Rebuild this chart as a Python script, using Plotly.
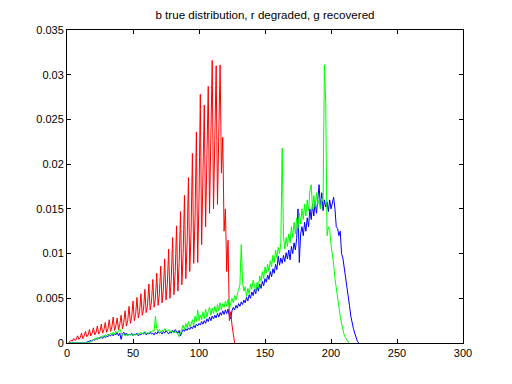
import plotly.graph_objects as go

# Degraded distribution (red), x = 1..127
red_vals = [
    0.0000, 0.0001, 0.0003, 0.0002, 0.0005, 0.0003, 0.0004, 0.0008, 0.0004, 0.0006,
    0.0011, 0.0005, 0.0008, 0.0013, 0.0007, 0.0009, 0.0015, 0.0008, 0.0011, 0.0017,
    0.0009, 0.0012, 0.0019, 0.0010, 0.0013, 0.0021, 0.0011, 0.0015, 0.0023, 0.0012,
    0.0016, 0.0026, 0.0013, 0.0018, 0.0029, 0.0014, 0.0019, 0.0028, 0.0015, 0.0021,
    0.0031, 0.0016, 0.0023, 0.0036, 0.0019, 0.0025, 0.0041, 0.0022, 0.0029, 0.0047,
    0.0025, 0.0032, 0.0051, 0.0028, 0.0035, 0.0055, 0.0031, 0.0038, 0.0060, 0.0034,
    0.0042, 0.0066, 0.0037, 0.0046, 0.0071, 0.0040, 0.0050, 0.0078, 0.0042, 0.0055,
    0.0086, 0.0045, 0.0060, 0.0094, 0.0048, 0.0066, 0.0105, 0.0050, 0.0072, 0.0118,
    0.0054, 0.0080, 0.0131, 0.0058, 0.0090, 0.0147, 0.0065, 0.0100, 0.0165, 0.0072,
    0.0112, 0.0185, 0.0080, 0.0125, 0.0212, 0.0089, 0.0140, 0.0236, 0.0090, 0.0160,
    0.0278, 0.0110, 0.0180, 0.0266, 0.0130, 0.0200, 0.0287, 0.0145, 0.0220, 0.0316,
    0.0150, 0.0230, 0.0310, 0.0155, 0.0240, 0.0311, 0.0190, 0.0230, 0.0125, 0.0150,
    0.0080, 0.0115, 0.0025, 0.0035, 0.0020, 0.0008, 0.0000,
]

# True distribution (blue), x = 1..221
blue_vals = [
    0.0000, 0.0000, 0.0000, 0.0000, 0.0000, 0.0000, 0.0000, 0.0000, 0.0000, 0.0000,
    0.0000, 0.0000, 0.0000, 0.0000, 0.0001, 0.0002, 0.0002, 0.0003, 0.0002, 0.0004,
    0.0003, 0.0005, 0.0004, 0.0006, 0.0005, 0.0007, 0.0005, 0.0008, 0.0006, 0.0008,
    0.0007, 0.0009, 0.0008, 0.0010, 0.0008, 0.0011, 0.0009, 0.0012, 0.0008, 0.0011,
    0.0004, 0.0010, 0.0012, 0.0009, 0.0011, 0.0008, 0.0010, 0.0009, 0.0011, 0.0008,
    0.0010, 0.0009, 0.0011, 0.0008, 0.0010, 0.0009, 0.0011, 0.0010, 0.0012, 0.0009,
    0.0011, 0.0010, 0.0012, 0.0010, 0.0011, 0.0009, 0.0012, 0.0010, 0.0013, 0.0011,
    0.0012, 0.0010, 0.0013, 0.0011, 0.0014, 0.0012, 0.0010, 0.0013, 0.0011, 0.0014,
    0.0012, 0.0015, 0.0013, 0.0011, 0.0014, 0.0008, 0.0012, 0.0015, 0.0013, 0.0016,
    0.0014, 0.0017, 0.0015, 0.0018, 0.0016, 0.0020, 0.0017, 0.0021, 0.0019, 0.0022,
    0.0020, 0.0024, 0.0021, 0.0025, 0.0022, 0.0027, 0.0024, 0.0029, 0.0025, 0.0030,
    0.0027, 0.0031, 0.0028, 0.0033, 0.0029, 0.0034, 0.0031, 0.0036, 0.0032, 0.0037,
    0.0033, 0.0038, 0.0030, 0.0027, 0.0036, 0.0040, 0.0037, 0.0042, 0.0039, 0.0044,
    0.0041, 0.0046, 0.0043, 0.0048, 0.0045, 0.0051, 0.0047, 0.0054, 0.0050, 0.0057,
    0.0053, 0.0060, 0.0055, 0.0063, 0.0058, 0.0066, 0.0061, 0.0069, 0.0064, 0.0072,
    0.0068, 0.0076, 0.0071, 0.0080, 0.0074, 0.0083, 0.0078, 0.0088, 0.0082, 0.0097,
    0.0087, 0.0095, 0.0089, 0.0098, 0.0091, 0.0101, 0.0094, 0.0104, 0.0093, 0.0108,
    0.0100, 0.0112, 0.0104, 0.0117, 0.0150, 0.0090, 0.0122, 0.0130, 0.0120, 0.0135,
    0.0125, 0.0140, 0.0130, 0.0150, 0.0138, 0.0155, 0.0142, 0.0158, 0.0145, 0.0165,
    0.0177, 0.0150, 0.0168, 0.0148, 0.0160, 0.0152, 0.0158, 0.0147, 0.0160, 0.0150,
    0.0156, 0.0163, 0.0150, 0.0130, 0.0128, 0.0120, 0.0125, 0.0100, 0.0095, 0.0085,
    0.0075, 0.0067, 0.0055, 0.0042, 0.0030, 0.0022, 0.0016, 0.0011, 0.0006, 0.0002,
    0.0000,
]

# Recovered distribution (green), x = 1..214
green_vals = [
    0.0000, 0.0000, 0.0000, 0.0000, 0.0000, 0.0000, 0.0000, 0.0000, 0.0000, 0.0000,
    0.0000, 0.0000, 0.0000, 0.0000, 0.0000, 0.0000, 0.0000, 0.0002, 0.0003, 0.0004,
    0.0005, 0.0004, 0.0006, 0.0005, 0.0007, 0.0006, 0.0008, 0.0007, 0.0009, 0.0008,
    0.0010, 0.0009, 0.0011, 0.0009, 0.0012, 0.0010, 0.0013, 0.0011, 0.0014, 0.0016,
    0.0012, 0.0009, 0.0010, 0.0008, 0.0009, 0.0008, 0.0010, 0.0009, 0.0010, 0.0008,
    0.0009, 0.0010, 0.0009, 0.0011, 0.0010, 0.0012, 0.0010, 0.0011, 0.0013, 0.0010,
    0.0012, 0.0011, 0.0013, 0.0012, 0.0014, 0.0013, 0.0030, 0.0016, 0.0013, 0.0015,
    0.0012, 0.0014, 0.0013, 0.0016, 0.0014, 0.0013, 0.0015, 0.0012, 0.0014, 0.0013,
    0.0011, 0.0013, 0.0012, 0.0010, 0.0007, 0.0012, 0.0016, 0.0020, 0.0015, 0.0022,
    0.0017, 0.0024, 0.0018, 0.0021, 0.0026, 0.0019, 0.0030, 0.0024, 0.0037, 0.0025,
    0.0031, 0.0026, 0.0035, 0.0027, 0.0038, 0.0029, 0.0036, 0.0040, 0.0031, 0.0039,
    0.0033, 0.0041, 0.0034, 0.0043, 0.0036, 0.0045, 0.0037, 0.0044, 0.0040, 0.0047,
    0.0041, 0.0049, 0.0038, 0.0044, 0.0050, 0.0045, 0.0053, 0.0048, 0.0056, 0.0060,
    0.0065, 0.0110, 0.0068, 0.0058, 0.0063, 0.0052, 0.0061, 0.0055, 0.0066, 0.0060,
    0.0070, 0.0064, 0.0058, 0.0068, 0.0062, 0.0075, 0.0069, 0.0080, 0.0072, 0.0085,
    0.0078, 0.0088, 0.0080, 0.0092, 0.0085, 0.0098, 0.0090, 0.0104, 0.0095, 0.0107,
    0.0100, 0.0112, 0.0218, 0.0120, 0.0105, 0.0118, 0.0108, 0.0122, 0.0112, 0.0130,
    0.0118, 0.0135, 0.0122, 0.0140, 0.0128, 0.0145, 0.0133, 0.0150, 0.0138, 0.0155,
    0.0142, 0.0160, 0.0148, 0.0170, 0.0177, 0.0150, 0.0165, 0.0152, 0.0168, 0.0155,
    0.0160, 0.0150, 0.0162, 0.0158, 0.0311, 0.0268, 0.0120, 0.0130, 0.0127, 0.0110,
    0.0100, 0.0088, 0.0072, 0.0060, 0.0048, 0.0038, 0.0030, 0.0022, 0.0015, 0.0009,
    0.0006, 0.0003, 0.0001, 0.0000,
]

x_ticks = [0, 50, 100, 150, 200, 250, 300]
y_ticks = [0, 0.005, 0.01, 0.015, 0.02, 0.025, 0.03, 0.035]
y_tick_text = ["0", "0.005", "0.01", "0.015", "0.02", "0.025", "0.03", "0.035"]
title_text = "b true distribution, r degraded, g recovered"

fig = go.Figure()
for vals, col in [(blue_vals, "#0000ff"), (red_vals, "#ff0000"), (green_vals, "#00ff00")]:
    fig.add_trace(go.Scatter(
        x=list(range(1, len(vals) + 1)), y=vals, mode="lines",
        line=dict(color=col, width=1), showlegend=False, hoverinfo="skip",
    ))

axis_common = dict(
    showline=True, linecolor="black", linewidth=1, mirror="ticks",
    ticks="inside", ticklen=4, tickcolor="black", showgrid=False, zeroline=False,
    automargin=False,
    tickfont=dict(family="Liberation Sans, Arial, sans-serif", size=11, color="black"),
)
fig.update_xaxes(range=[0, 300], tickvals=x_ticks, ticktext=[str(v) for v in x_ticks], **axis_common)
fig.update_yaxes(range=[0, 0.035], tickvals=y_ticks, ticktext=y_tick_text, **axis_common)

# The page body adds an 8px offset, so the figure is 504x376 with margins shifted accordingly
fig.update_layout(
    width=504, height=376,
    margin=dict(l=59, r=49, t=22, b=41, autoexpand=False),
    paper_bgcolor="white", plot_bgcolor="white",
    title=dict(text=title_text, x=257 / 504, xanchor="center", y=1 - 7 / 376, yanchor="middle",
               yref="container",
               font=dict(family="Liberation Sans, Arial, sans-serif", size=11.6, color="black")),
)

fig.write_html("out.html")
